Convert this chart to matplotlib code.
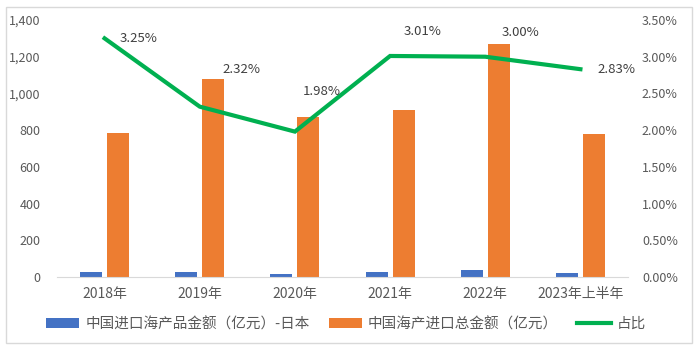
import matplotlib
matplotlib.use("Agg")
import matplotlib.pyplot as plt
import matplotlib.ticker as mticker
from matplotlib.lines import Line2D
from matplotlib.patches import Patch, Rectangle
import numpy as np

plt.rcParams['font.family'] = ['Noto Sans CJK SC', 'DejaVu Sans']

# Data
years = ['2018年', '2019年', '2020年', '2021年', '2022年', '2023年上半年']
japan = [25.5, 25.0, 17.3, 27.4, 38.1, 22.0]
total = [785, 1079, 872, 910, 1271, 779]
ratio = [3.25, 2.32, 1.98, 3.01, 3.00, 2.83]

# label offsets in pixels (dx, dy, ha)
label_offsets = [(15, 0, 'left'), (42, 37, 'center'), (27, 40, 'center'),
                 (32, 24, 'center'), (35, 24, 'center'), (17, 0, 'left')]

blue = '#4472C4'
orange = '#ED7D31'
green = '#00B050'
txt = '#595959'

fig = plt.figure(figsize=(7.0, 3.52), dpi=100)
ax = fig.add_axes([57/700, 1 - 277/352, 571/700, 257/352])

x = np.arange(len(years))
w = 0.23
ax.bar(x - 0.142, japan, width=w, color=blue)
ax.bar(x + 0.142, total, width=w, color=orange)

ax.set_xlim(-0.5, len(years) - 0.5)
ax.set_ylim(0, 1400)
ax.yaxis.set_major_locator(mticker.MultipleLocator(200))
ax.yaxis.set_major_formatter(mticker.FuncFormatter(lambda v, p: f'{int(v):,}'))
ax.set_xticks(x)
ax.set_xticklabels(years)

for s in ['top', 'right', 'left']:
    ax.spines[s].set_visible(False)
ax.spines['bottom'].set_color('#D9D9D9')
ax.tick_params(axis='both', length=0, labelsize=9, colors=txt)
ax.tick_params(axis='x', pad=7, labelsize=10)
ax.tick_params(axis='y', pad=12)

ax2 = ax.twinx()
ax2.plot(x, ratio, color=green, linewidth=3, solid_joinstyle='miter')
ax2.set_ylim(0, 3.5)
ax2.yaxis.set_major_locator(mticker.MultipleLocator(0.5))
ax2.yaxis.set_major_formatter(mticker.FuncFormatter(lambda v, p: f'{v:.2f}%'))
for s in ax2.spines.values():
    s.set_visible(False)
ax2.tick_params(axis='y', length=0, labelsize=9, colors=txt, pad=10)

for xi, r, (dx, dy, ha) in zip(x, ratio, label_offsets):
    ax2.annotate(f'{r:.2f}%', (xi, r), xytext=(dx, dy), textcoords='offset pixels',
                 ha=ha, va='center', fontsize=9.5, color='#404040')

handles = [Patch(facecolor=blue), Patch(facecolor=orange),
           Line2D([0], [0], color=green, linewidth=3)]
labels = ['中国进口海产品金额（亿元）-日本', '中国海产进口总金额（亿元）', '占比']
fig.legend(handles, labels, loc='center', bbox_to_anchor=(0.494, 1 - 324/352), ncol=3,
           frameon=False, fontsize=10.5, labelcolor=txt, handlelength=2.3,
           handleheight=0.6, columnspacing=1.3, handletextpad=0.4)

fig.patches.append(Rectangle((6/700, 1 - 343/352), 686/700, 336/352,
                             transform=fig.transFigure, fill=False,
                             edgecolor='#D9D9D9', linewidth=1))

fig.savefig('out.png', dpi=100)
